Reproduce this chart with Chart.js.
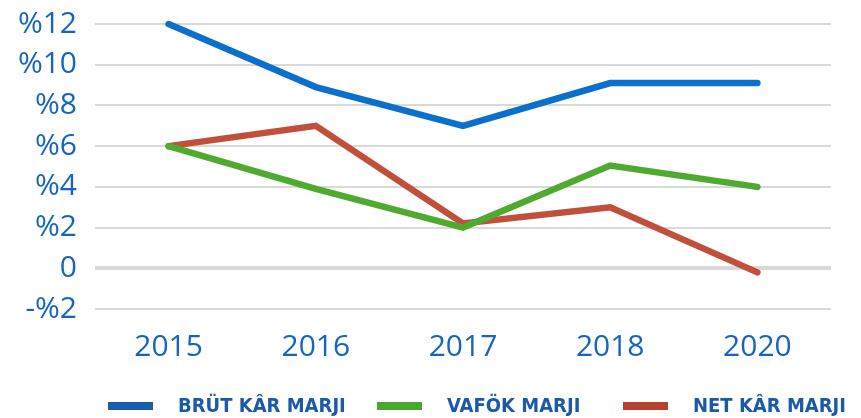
<!DOCTYPE html>
<html>
<head>
<meta charset="utf-8">
<script src="https://cdn.jsdelivr.net/npm/chart.js@4/dist/chart.umd.min.js"></script>
<style>
  html, body { margin: 0; padding: 0; background: #ffffff; }
  #wrap { width: 861px; height: 418px; position: relative; }
</style>
</head>
<body>
<div id="wrap"><canvas id="c" width="861" height="418"></canvas></div>
<script>
const categories = ['2015', '2016', '2017', '2018', '2020'];
const brutKar = [12, 8.9, 7.0, 9.1, 9.1];
const vafok = [6.0, 3.9, 2.0, 5.05, 4.0];
const netKar = [6.0, 7.0, 2.2, 3.0, -0.2];
const seriesNames = ['BRÜT KÂR MARJI', 'VAFÖK MARJI', 'NET KÂR MARJI'];
const yTicks = [-2, 0, 2, 4, 6, 8, 10, 12];

const lineColors = ['#0B6FCC', '#4EAB2F', '#C1503B'];
const legendColors = ['#1A5DAB', '#4DA72E', '#B84230'];

const legendPlugin = {
  id: 'customLegend',
  afterDraw(chart) {
    const ctx = chart.ctx;
    const starts = [108, 377, 623];
    const y = 406;
    ctx.save();
    chart.data.datasets.forEach((ds, i) => {
      ctx.fillStyle = legendColors[i];
      ctx.fillRect(starts[i], y - 4, 45, 8);
      ctx.fillStyle = '#1A5AA8';
      ctx.font = "bold 20px 'Liberation Sans Narrow', 'DejaVu Sans Condensed', sans-serif";
      ctx.textBaseline = 'middle';
      ctx.textAlign = 'left';
      ctx.fillText(ds.label, starts[i] + 70, y + 1);
    });
    ctx.restore();
  }
};

new Chart(document.getElementById('c'), {
  type: 'line',
  data: {
    labels: categories,
    datasets: [
      { label: seriesNames[0], data: brutKar, borderColor: lineColors[0], backgroundColor: lineColors[0], clip: false },
      { label: seriesNames[1], data: vafok, borderColor: lineColors[1], backgroundColor: lineColors[1], clip: false },
      { label: seriesNames[2], data: netKar, borderColor: lineColors[2], backgroundColor: lineColors[2], clip: false }
    ]
  },
  options: {
    responsive: false,
    animation: false,
    layout: { padding: { top: 24, right: 30, bottom: 50, left: 0 } },
    elements: {
      line: { borderWidth: 6.5, tension: 0, borderCapStyle: 'round', borderJoinStyle: 'miter' },
      point: { radius: 0, hoverRadius: 0 }
    },
    plugins: { legend: { display: false }, tooltip: { enabled: false } },
    scales: {
      x: {
        offset: true,
        grid: { display: false },
        border: { display: false },
        ticks: { color: '#1565C0', font: { family: "'Open Sans', sans-serif", size: 30 }, padding: 12 },
        afterFit(scale) { scale.height = 59; scale.paddingLeft = 0; scale.paddingRight = 0; }
      },
      y: {
        min: -2, max: 12,
        afterBuildTicks(scale) { scale.ticks = yTicks.map(v => ({ value: v })); },
        grid: {
          drawTicks: false,
          color: '#D9D9D9',
          lineWidth: (c) => (c.tick && c.tick.value === 0 ? 4 : 2)
        },
        border: { display: false },
        ticks: {
          color: '#1565C0',
          font: { family: "'Open Sans', sans-serif", size: 30 },
          padding: 18,
          callback: (v) => v === 0 ? '0' : (v < 0 ? '-%' + (-v) : '%' + v)
        },
        afterFit(scale) { scale.width = 95; scale.paddingTop = 0; scale.paddingBottom = 0; }
      }
    }
  },
  plugins: [legendPlugin]
});
</script>
</body>
</html>
